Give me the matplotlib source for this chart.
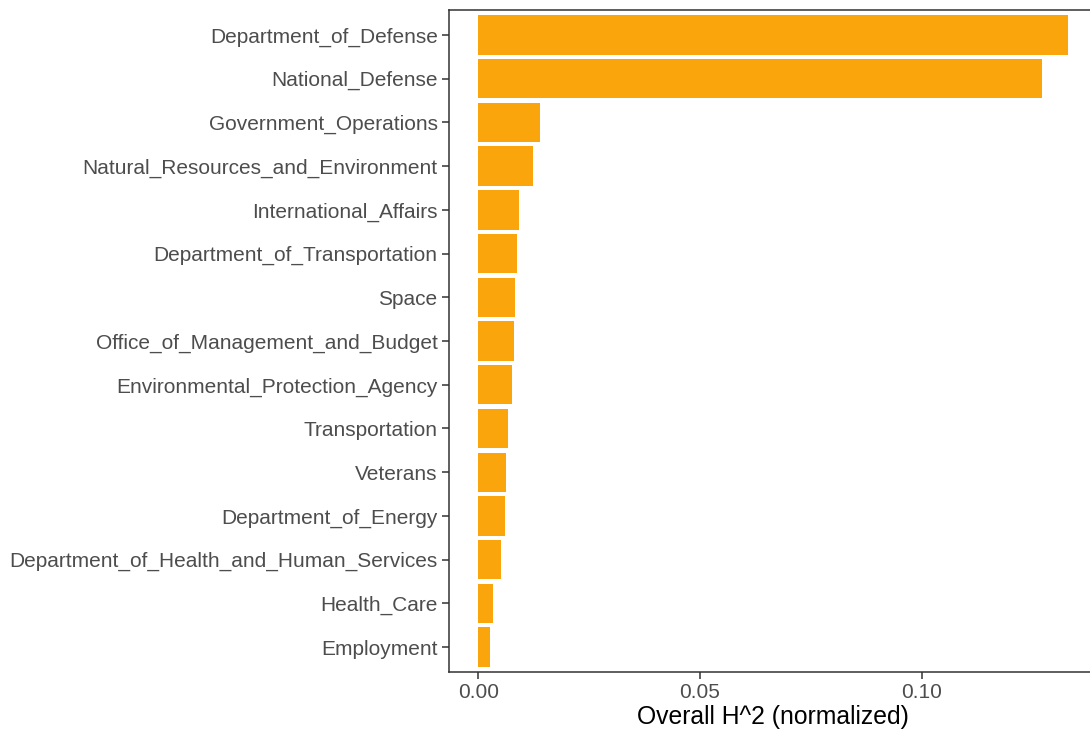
import matplotlib
matplotlib.use("Agg")
import matplotlib.pyplot as plt

# normalized overall H^2 per category, largest first
categories = [
    "Department_of_Defense",
    "National_Defense",
    "Government_Operations",
    "Natural_Resources_and_Environment",
    "International_Affairs",
    "Department_of_Transportation",
    "Space",
    "Office_of_Management_and_Budget",
    "Environmental_Protection_Agency",
    "Transportation",
    "Veterans",
    "Department_of_Energy",
    "Department_of_Health_and_Human_Services",
    "Health_Care",
    "Employment",
]
h2_values = [0.1331, 0.1272, 0.0140, 0.0124, 0.00925, 0.0088, 0.00835, 0.0081,
             0.00767, 0.00677, 0.00632, 0.00609, 0.00519, 0.00338, 0.00271]
x_ticks = [0.0, 0.05, 0.10]
x_tick_labels = ["0.00", "0.05", "0.10"]

plt.rcParams["font.family"] = ["Liberation Sans", "DejaVu Sans"]

fig = plt.figure(figsize=(10.9, 7.38), dpi=100)
ax = fig.add_axes([0.4117, 0.0894, 0.5955, 0.897])

pos = list(range(len(categories)))
ax.barh(pos, h2_values, height=0.9, color="#FBA50C", edgecolor="none")

ax.set_ylim(len(categories) - 0.43, -0.57)
ax.set_xlim(-0.00666, max(h2_values) * 1.05)
ax.set_yticks(pos)
ax.set_yticklabels(categories)
ax.set_xticks(x_ticks)
ax.set_xticklabels(x_tick_labels)

for s in ax.spines.values():
    s.set_color("#333333")
    s.set_linewidth(1.1)
ax.tick_params(axis="both", colors="#333333", length=5, width=1.1,
               labelcolor="#4D4D4D", labelsize=15, pad=3)

ax.set_xlabel("Overall H^2 (normalized)", fontsize=17.8, color="black", labelpad=2)

fig.savefig("out.png", dpi=100)
